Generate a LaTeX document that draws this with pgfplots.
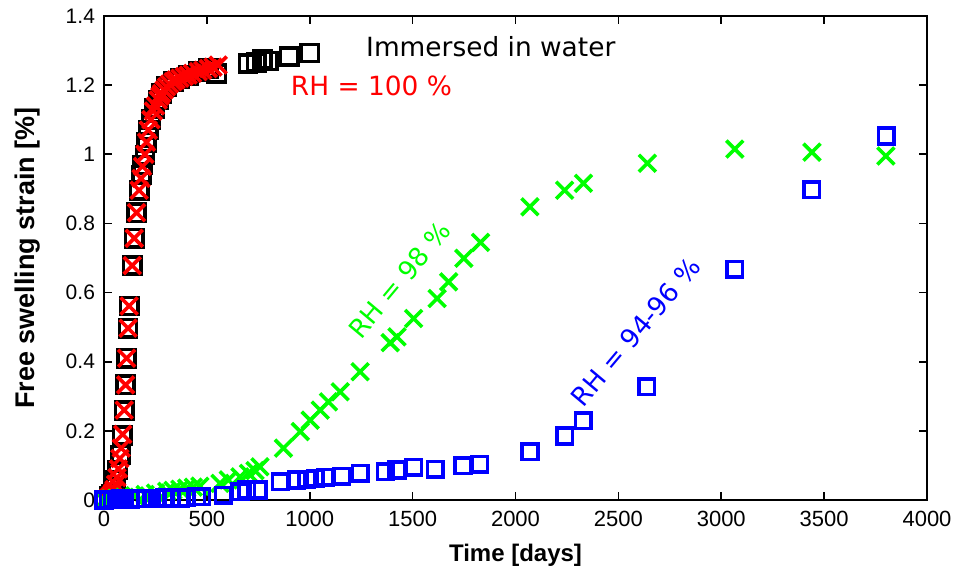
\documentclass[border=0pt]{standalone}
\usepackage{fontspec}
\setmainfont{Liberation Sans}
\newfontfamily\djv{DejaVu Sans}
\usepackage{pgfplots}
\pgfplotsset{compat=1.18}

\definecolor{gpgreen}{RGB}{0,255,0}
\definecolor{gpblue}{RGB}{0,0,255}
\definecolor{gpred}{RGB}{255,0,0}

\begin{document}
\begin{tikzpicture}
\begin{axis}[
    scale only axis,
    width=411.5pt, height=242pt,
    xmin=0, xmax=4000, ymin=0, ymax=1.4,
    xtick={0,500,...,4000},
    ytick={0,0.2,...,1.4},
    tick align=inside, major tick length=4pt,
    axis line style={line width=1pt},
    tick style={line width=0.8pt, black},
    /pgf/number format/assume math mode=true,
    /pgf/number format/1000 sep={},
    ticklabel style={font=\fontsize{10.5}{12}\selectfont},
    xticklabel style={font=\fontsize{11}{12}\selectfont, yshift=-2pt},
    yticklabel style={xshift=-1pt},
    xlabel={\bfseries Time [days]},
    ylabel={\bfseries Free swelling strain [\%]},
    xlabel style={font=\fontsize{12}{14}\selectfont, yshift=-2pt},
    ylabel style={font=\fontsize{13.5}{15}\selectfont, yshift=6pt},
    clip=false,
]
% immersed in water
\addplot[only marks, mark=square, mark size=4.3pt, line width=1.8pt, black] coordinates {
(0,0)(28,0.009)(38,0.017)(48,0.035)(57,0.058)(67,0.087)(80,0.13)(88,0.186)
(98,0.258)(105,0.333)(110,0.41)(117,0.497)(122,0.561)(137,0.678)(147,0.757)
(158,0.831)(171,0.896)(183,0.94)(187,0.969)(199,0.998)(207,1.035)(215,1.07)
(228,1.1)(247,1.133)(263,1.157)(280,1.176)(304,1.195)(336,1.21)(369,1.219)
(409,1.229)(458,1.239)(507,1.248)(548,1.234)
(700,1.262)(740,1.265)(770,1.275)(800,1.270)(900,1.283)(1000,1.293)};
% RH = 100 %
\addplot[only marks, mark=x, mark size=6pt, line width=1.8pt, gpred] coordinates {
(0,0)(14,0.003)(21,0.006)(28,0.01)(35,0.015)(42,0.022)(49,0.03)(56,0.045)
(63,0.065)(70,0.09)(77,0.12)(84,0.15)(91,0.19)(98,0.26)(105,0.333)(110,0.41)
(117,0.497)(122,0.561)(137,0.678)(147,0.757)(158,0.831)(171,0.896)(180,0.93)
(187,0.965)(199,1.0)(207,1.035)(215,1.07)(228,1.1)(240,1.125)(250,1.14)
(263,1.157)(272,1.168)(280,1.176)(292,1.186)(304,1.195)(318,1.203)(336,1.21)
(350,1.215)(369,1.22)(390,1.225)(409,1.229)(430,1.234)(458,1.239)(480,1.243)
(507,1.248)(530,1.252)(555,1.258)};
% RH = 98 %
\addplot[only marks, mark=x, mark size=6pt, line width=1.8pt, gpgreen] coordinates {
(0,0)(30,0.003)(60,0.005)(100,0.008)(150,0.012)(200,0.016)(250,0.02)(305,0.025)
(335,0.028)(369,0.031)(402,0.034)(434,0.037)(466,0.04)(564,0.048)(604,0.058)
(661,0.067)(702,0.077)(734,0.085)(758,0.096)(872,0.15)(954,0.198)(1002,0.231)
(1051,0.26)(1091,0.284)(1148,0.313)(1245,0.371)(1391,0.455)(1424,0.472)
(1505,0.525)(1619,0.583)(1675,0.631)(1749,0.699)(1830,0.745)(2070,0.848)
(2239,0.896)(2330,0.916)(2641,0.974)(3066,1.015)(3441,1.006)(3800,0.995)};
% RH = 94-96 %
\addplot[only marks, mark=square, mark size=3.9pt, line width=1.8pt, gpblue] coordinates {
(0,0)(20,0.001)(40,0.002)(60,0.002)(80,0.003)(100,0.003)(130,0.003)(160,0.004)
(200,0.004)(230,0.005)(260,0.005)(296,0.006)(330,0.006)(369,0.006)(400,0.007)
(450,0.01)(475,0.01)(580,0.014)(661,0.024)(694,0.029)(750,0.029)(856,0.053)
(937,0.058)(986,0.06)(1026,0.063)(1075,0.066)(1156,0.069)(1245,0.077)
(1367,0.082)(1424,0.087)(1505,0.095)(1611,0.089)(1745,0.099)(1826,0.103)
(2070,0.14)(2239,0.185)(2330,0.229)(2638,0.328)(3066,0.667)(3440,0.898)(3802,1.053)};

\node[font=\djv\fontsize{13.2}{15}\selectfont, black] at (axis cs:1880,1.31) {Immersed in water};
\node[font=\djv\fontsize{13.2}{15}\selectfont, gpred] at (axis cs:1300,1.197) {RH = 100 \%};
\node[font=\djv\fontsize{13}{15}\selectfont, gpgreen, rotate=50] at (axis cs:1437,0.636) {RH = 98 \%};
\node[font=\djv\fontsize{13}{15}\selectfont, gpblue, rotate=50] at (axis cs:2584,0.486) {RH = 94-96 \%};
\end{axis}
\path (current axis.south west) ++(-52pt,-36pt) (current axis.north east) ++(17.5pt,8pt);
\end{tikzpicture}
\end{document}
